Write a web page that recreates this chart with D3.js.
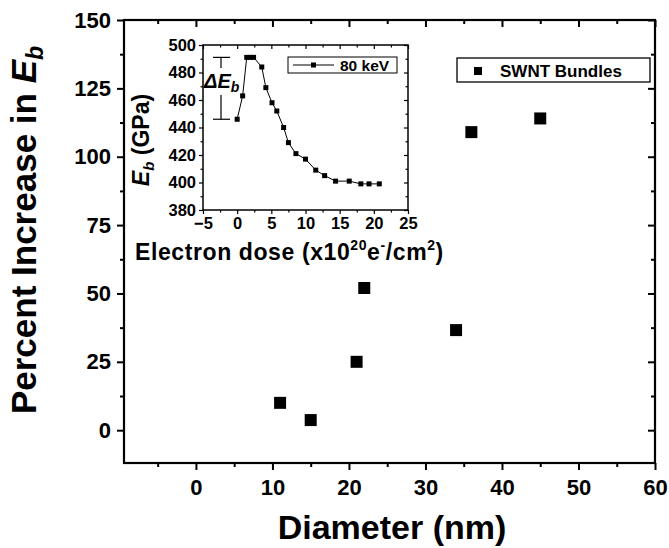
<!DOCTYPE html>
<html>
<head>
<meta charset="utf-8">
<script src="https://cdn.jsdelivr.net/npm/d3@7"></script>
<style>
  body { margin: 0; background: #fff; }
  svg { font-family: "Liberation Sans", Arial, sans-serif; font-weight: bold; }
  .tick line { stroke: #000; }
  .domain { display: none; }
</style>
</head>
<body>
<script>
const width = 669;
const height = 548;

// main plot: SWNT bundles
const diameter = [11, 15, 21, 22, 34, 36, 45];
const percentIncrease = [10, 3.7, 25, 52, 36.6, 109, 114];
const mainXTicks = [0, 10, 20, 30, 40, 50, 60];
const mainYTicks = [0, 25, 50, 75, 100, 125, 150];

// inset: 80 keV irradiation
const dose = [0, 0.8, 1.4, 1.9, 2.4, 3.6, 4.2, 5.1, 5.8, 6.8, 7.5, 8.6, 10.0, 11.5, 12.8, 14.4, 16.4, 18.1, 19.3, 20.8];
const modulus = [446, 463, 491, 491, 491, 484, 469, 458, 452, 440, 429, 421, 417, 409, 405, 401, 401, 399, 399, 399];
const insetXTicks = [-5, 0, 5, 10, 15, 20, 25];
const insetYTicks = [380, 400, 420, 440, 460, 480, 500];

const svg = d3.select("body")
    .append("svg")
    .attr("width", width)
    .attr("height", height);

// ---- main plot ----
const m = { left: 124, right: 655, top: 20, bottom: 463 };
const x = d3.scaleLinear().domain([-9.4, 60]).range([m.left, m.right]);
const y = d3.scaleLinear().domain([-12, 150]).range([m.bottom, m.top]);

function minorBetween(ticks, step, domain) {
    const out = [];
    for (let v = ticks[0] - step; v <= ticks[ticks.length - 1] + step; v += step * 2) {
        if (v > domain[0] && v < domain[1]) out.push(v);
    }
    return out;
}

const mainXMinor = minorBetween(mainXTicks, 5, x.domain());
const mainYMinor = minorBetween(mainYTicks, 12.5, y.domain());

function drawAxes(g, xs, ys, xt, yt, xm, ym, o) {
    const [x0, x1] = xs.range();
    const [y0, y1] = ys.range();
    // bottom (outward) with labels
    g.append("g").attr("transform", `translate(0,${y0})`)
        .call(d3.axisBottom(xs).tickValues(xt).tickSize(o.major).tickPadding(o.padX).tickFormat(d3.format("d")))
        .call(s => s.selectAll("text").attr("font-size", o.font).attr("font-weight", "bold").attr("fill", "#000").attr("font-family", "inherit"))
        .call(s => s.selectAll("line").attr("stroke-width", o.tw));
    g.append("g").attr("transform", `translate(0,${y0})`)
        .call(d3.axisBottom(xs).tickValues(xm).tickSize(o.minor).tickFormat(""))
        .call(s => s.selectAll("line").attr("stroke-width", o.tw));
    // top (inward)
    g.append("g").attr("transform", `translate(0,${y1})`)
        .call(d3.axisTop(xs).tickValues(xt).tickSize(-o.major).tickFormat(""))
        .call(s => s.selectAll("line").attr("stroke-width", o.tw));
    g.append("g").attr("transform", `translate(0,${y1})`)
        .call(d3.axisTop(xs).tickValues(xm).tickSize(-o.minor).tickFormat(""))
        .call(s => s.selectAll("line").attr("stroke-width", o.tw));
    // left (outward) with labels
    g.append("g").attr("transform", `translate(${x0},0)`)
        .call(d3.axisLeft(ys).tickValues(yt).tickSize(o.major).tickPadding(o.padY).tickFormat(d3.format("d")))
        .call(s => s.selectAll("text").attr("font-size", o.font).attr("font-weight", "bold").attr("fill", "#000").attr("font-family", "inherit"))
        .call(s => s.selectAll("line").attr("stroke-width", o.tw));
    g.append("g").attr("transform", `translate(${x0},0)`)
        .call(d3.axisLeft(ys).tickValues(ym).tickSize(o.minor).tickFormat(""))
        .call(s => s.selectAll("line").attr("stroke-width", o.tw));
    // right (inward)
    g.append("g").attr("transform", `translate(${x1},0)`)
        .call(d3.axisRight(ys).tickValues(yt).tickSize(-o.major).tickFormat(""))
        .call(s => s.selectAll("line").attr("stroke-width", o.tw));
    g.append("g").attr("transform", `translate(${x1},0)`)
        .call(d3.axisRight(ys).tickValues(ym).tickSize(-o.minor).tickFormat(""))
        .call(s => s.selectAll("line").attr("stroke-width", o.tw));
    // frame
    g.append("rect")
        .attr("x", x0).attr("y", y1)
        .attr("width", x1 - x0).attr("height", y0 - y1)
        .attr("fill", "none").attr("stroke", "#000").attr("stroke-width", o.fw);
}

const mainG = svg.append("g");
drawAxes(mainG, x, y, mainXTicks, mainYTicks, mainXMinor, mainYMinor,
    { major: 7, minor: 4, tw: 2, fw: 2.2, font: 22, padX: 9, padY: 6 });

// main data squares
const sq = 12;
mainG.selectAll(".pt")
    .data(diameter.map((d, i) => [d, percentIncrease[i]]))
    .enter()
    .append("rect")
    .attr("class", "pt")
    .attr("x", d => x(d[0]) - sq / 2)
    .attr("y", d => y(d[1]) - sq / 2)
    .attr("width", sq).attr("height", sq)
    .attr("fill", "#000");

// main legend
const leg = mainG.append("g");
leg.append("rect").attr("x", 457).attr("y", 58).attr("width", 193).attr("height", 24)
    .attr("fill", "#fff").attr("stroke", "#000").attr("stroke-width", 1.3);
leg.append("rect").attr("x", 474).attr("y", 67).attr("width", 8).attr("height", 8).attr("fill", "#000");
leg.append("text").attr("x", 500).attr("y", 77).attr("font-size", 17).text("SWNT Bundles");

// main axis titles
svg.append("text")
    .attr("x", 392).attr("y", 539)
    .attr("text-anchor", "middle").attr("font-size", 34)
    .text("Diameter (nm)");

const yTitle = svg.append("text")
    .attr("transform", "translate(36,230) rotate(-90)")
    .attr("text-anchor", "middle").attr("font-size", 35);
yTitle.append("tspan").text("Percent Increase in ");
yTitle.append("tspan").attr("font-style", "italic").text("E");
yTitle.append("tspan").attr("font-style", "italic").attr("font-size", 23).attr("dy", 7).text("b");

// ---- inset ----
const ix = d3.scaleLinear().domain([-5, 25]).range([203, 408]);
const iy = d3.scaleLinear().domain([380, 500]).range([210, 45]);
const insetG = svg.append("g");
drawAxes(insetG, ix, iy, insetXTicks, insetYTicks,
    minorBetween(insetXTicks, 2.5, ix.domain()), minorBetween(insetYTicks, 10, iy.domain()),
    { major: 4, minor: 2.5, tw: 1.2, fw: 1.5, font: 16.5, padX: 3, padY: 3 });

const line = d3.line().x(d => ix(d[0])).y(d => iy(d[1]));
const insetData = dose.map((d, i) => [d, modulus[i]]);
insetG.append("path")
    .attr("d", line(insetData))
    .attr("fill", "none").attr("stroke", "#000").attr("stroke-width", 1);
const ms = 5;
insetG.selectAll(".ipt")
    .data(insetData)
    .enter()
    .append("rect")
    .attr("x", d => ix(d[0]) - ms / 2)
    .attr("y", d => iy(d[1]) - ms / 2)
    .attr("width", ms).attr("height", ms)
    .attr("fill", "#000");

// delta E_b bracket, from first value to the peak
const eLow = modulus[0];
const eHigh = d3.max(modulus);
const bx = 221;
insetG.append("line").attr("x1", bx - 8).attr("x2", bx + 9).attr("y1", iy(eHigh)).attr("y2", iy(eHigh)).attr("stroke", "#000").attr("stroke-width", 1.2);
insetG.append("line").attr("x1", bx - 8).attr("x2", bx + 9).attr("y1", iy(eLow)).attr("y2", iy(eLow)).attr("stroke", "#000").attr("stroke-width", 1.2);
insetG.append("line").attr("x1", bx).attr("x2", bx).attr("y1", iy(eHigh)).attr("y2", 68).attr("stroke", "#000").attr("stroke-width", 1.2);
insetG.append("line").attr("x1", bx).attr("x2", bx).attr("y1", 95).attr("y2", iy(eLow)).attr("stroke", "#000").attr("stroke-width", 1.2);
const dE = insetG.append("text").attr("x", 204).attr("y", 88).attr("font-size", 20).attr("font-style", "italic");
dE.append("tspan").text("ΔE");
dE.append("tspan").attr("font-size", 14).attr("dy", 4).text("b");

// inset legend
const ileg = insetG.append("g");
ileg.append("rect").attr("x", 288).attr("y", 57).attr("width", 109).attr("height", 16)
    .attr("fill", "#fff").attr("stroke", "#000").attr("stroke-width", 1);
ileg.append("line").attr("x1", 293).attr("x2", 334).attr("y1", 65).attr("y2", 65).attr("stroke", "#000").attr("stroke-width", 1);
ileg.append("rect").attr("x", 311).attr("y", 62.5).attr("width", 5).attr("height", 5).attr("fill", "#000");
ileg.append("text").attr("x", 340).attr("y", 70.5).attr("font-size", 15.5).text("80 keV");

// inset axis titles
const iyTitle = svg.append("text")
    .attr("transform", "translate(149,140) rotate(-90)")
    .attr("text-anchor", "middle").attr("font-size", 23);
iyTitle.append("tspan").attr("font-style", "italic").text("E");
iyTitle.append("tspan").attr("font-style", "italic").attr("font-size", 15).attr("dy", 5).text("b");
iyTitle.append("tspan").attr("dy", -5).text(" (GPa)");

const ixTitle = svg.append("text").attr("x", 135).attr("y", 260).attr("font-size", 23).attr("letter-spacing", 0.6);
ixTitle.append("tspan").text("Electron dose (x10");
ixTitle.append("tspan").attr("font-size", 14).attr("dy", -10).text("20");
ixTitle.append("tspan").attr("dy", 10).text("e");
ixTitle.append("tspan").attr("font-size", 14).attr("dy", -10).text("-");
ixTitle.append("tspan").attr("dy", 10).text("/cm");
ixTitle.append("tspan").attr("font-size", 14).attr("dy", -10).text("2");
ixTitle.append("tspan").attr("dy", 10).text(")");
</script>
</body>
</html>
